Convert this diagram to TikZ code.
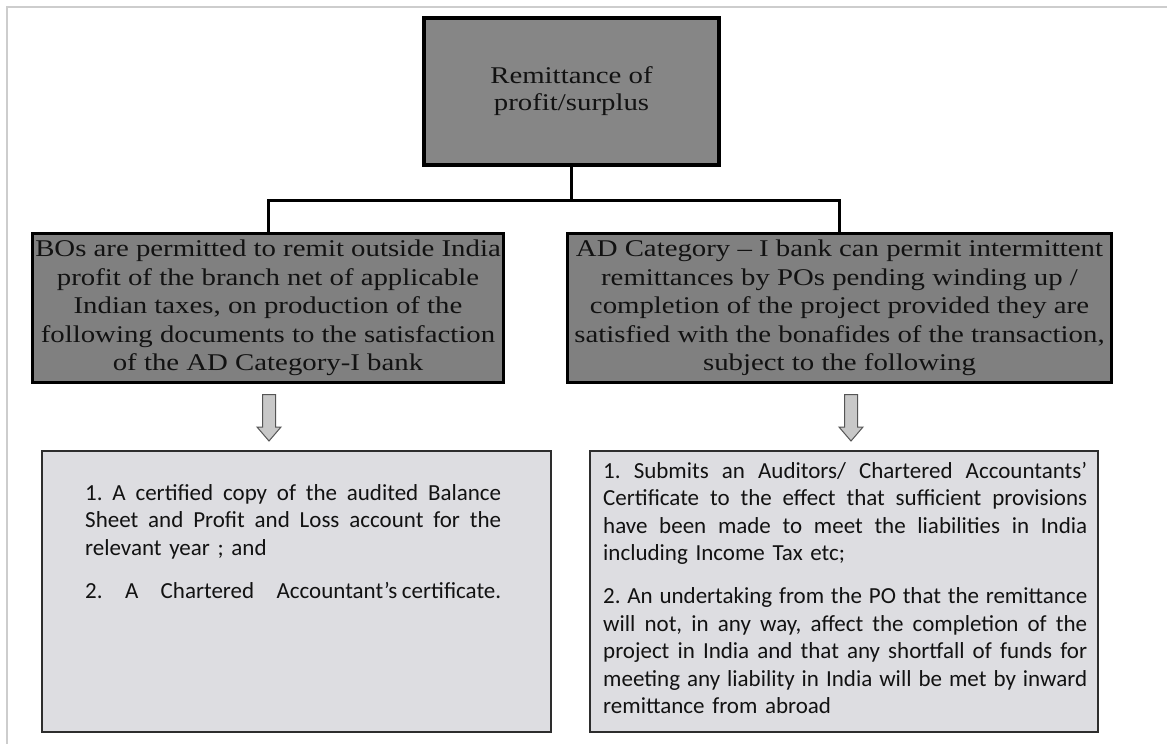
\documentclass[tikz,border=0pt]{standalone}
\usepackage{fontspec}
\setmainfont{Liberation Serif}
\newfontfamily\headfont[FakeStretch=1.2]{Liberation Serif}
\newfontfamily\bodyfont{Carlito}
\usetikzlibrary{calc}
\frenchspacing
\definecolor{framegray}{RGB}{205,205,205}
\definecolor{topgray}{RGB}{134,134,134}
\definecolor{midgray}{RGB}{128,128,128}
\definecolor{lowgray}{RGB}{221,221,225}
\definecolor{lowedge}{RGB}{45,45,45}
\definecolor{arrowfill}{RGB}{200,200,200}
\definecolor{arrowedge}{RGB}{85,85,85}
\definecolor{inkgray}{RGB}{18,18,18}
\tikzset{
  topbox/.style={draw=black, line width=4pt, fill=topgray, minimum width=295pt, minimum height=147pt,
    inner sep=0pt, text=inkgray, font=\headfont\fontsize{24}{27}\selectfont},
  midbox/.style={draw=black, line width=3pt, fill=midgray, minimum width=471pt, minimum height=149pt,
    inner sep=0pt, text=inkgray, font=\headfont\fontsize{24}{28.5}\selectfont},
  lowbox/.style={draw=lowedge, line width=2pt, fill=lowgray, minimum width=509pt, minimum height=281pt, inner sep=0pt},
  lowtext/.style={anchor=base west, inner sep=0pt, align=left, text=inkgray, font=\bodyfont\fontsize{23}{27.5}\selectfont},
  linkline/.style={draw=black, line width=3pt},
  blockarrow/.style={draw=arrowedge, line width=1pt, fill=arrowfill, line join=miter},
}
\newcommand{\jline}[2]{\leavevmode\hbox to #1{\spaceskip=0.2em plus 1fil minus 0.08em\relax #2}}
\newcommand{\stack}[2][0pt]{\raisebox{#1}{\begin{tabular}{@{}c@{}}#2\end{tabular}}}
\begin{document}
\begin{tikzpicture}[x=1pt,y=-1pt]
\useasboundingbox (0,0) rectangle (1167,744);
\fill[white] (0,0) rectangle (1167,744);
\draw[framegray, line width=1.5pt] (7,744) -- (7,7) -- (1167,7);

\node[topbox] (top) at (571.5,91.5) {\stack[-2pt]{Remittance of\\profit/surplus}};

\node[midbox] (m1) at (268,308) {\stack{BOs are permitted to remit outside India\\profit of the branch net of applicable\\Indian taxes, on production of the\\following documents to the satisfaction\\of the AD Category-I bank}};
\node[midbox, minimum width=544pt] (m2) at (839.5,308) {\stack{AD Category – I bank can permit intermittent\\remittances by POs pending winding up /\\completion of the project provided they are\\satisfied with the bonafides of the transaction,\\subject to the following}};

\node[lowbox] (b1) at (296.5,591.5) {};
\node[lowbox, minimum width=508pt] (b2) at (844,591.5) {};

\node[lowtext, text width=416pt] (t1) at (85,500) {%
\jline{416pt}{1. A certified copy of the audited Balance}\\
\jline{416pt}{Sheet and Profit and Loss account for the}\\
relevant year ; and\\[15.5pt]
\jline{416pt}{2. A Chartered Accountant’s\hspace{0.2em}certificate.}};

\node[lowtext, text width=484pt] (t2) at (603,478) {%
\jline{484pt}{1. Submits an Auditors/ Chartered Accountants’}\\
\jline{484pt}{Certificate to the effect that sufficient provisions}\\
\jline{484pt}{have been made to meet the liabilities in India}\\
including Income Tax etc;\\[15.5pt]
\jline{484pt}{2. An undertaking from the PO that the remittance}\\
\jline{484pt}{will not, in any way, affect the completion of the}\\
\jline{484pt}{project in India and that any shortfall of funds for}\\
\jline{484pt}{meeting any liability in India will be met by inward}\\
remittance from abroad};

\draw[linkline] (top.south) -- ++(0,33.5) coordinate (hub) -| (m1.north);
\draw[linkline] (hub) -| (m2.north);

\draw[blockarrow] let \p1=(m1.south), \p2=(b1.north) in
  (\x1+1pt-6.5pt,\y1-10.5pt) -- (\x1+1pt+6.5pt,\y1-10.5pt) -- (\x1+1pt+6.5pt,\y2+23pt)
  -- (\x1+1pt+12pt,\y2+23pt) -- (\x1+1pt,\y2+9pt) -- (\x1+1pt-12pt,\y2+23pt)
  -- (\x1+1pt-6.5pt,\y2+23pt) -- cycle;
\draw[blockarrow] let \p1=(m2.south), \p2=(b2.north) in
  (\x1+11.5pt-6.5pt,\y1-10.5pt) -- (\x1+11.5pt+6.5pt,\y1-10.5pt) -- (\x1+11.5pt+6.5pt,\y2+23pt)
  -- (\x1+11.5pt+12pt,\y2+23pt) -- (\x1+11.5pt,\y2+9pt) -- (\x1+11.5pt-12pt,\y2+23pt)
  -- (\x1+11.5pt-6.5pt,\y2+23pt) -- cycle;
\end{tikzpicture}
\end{document}
